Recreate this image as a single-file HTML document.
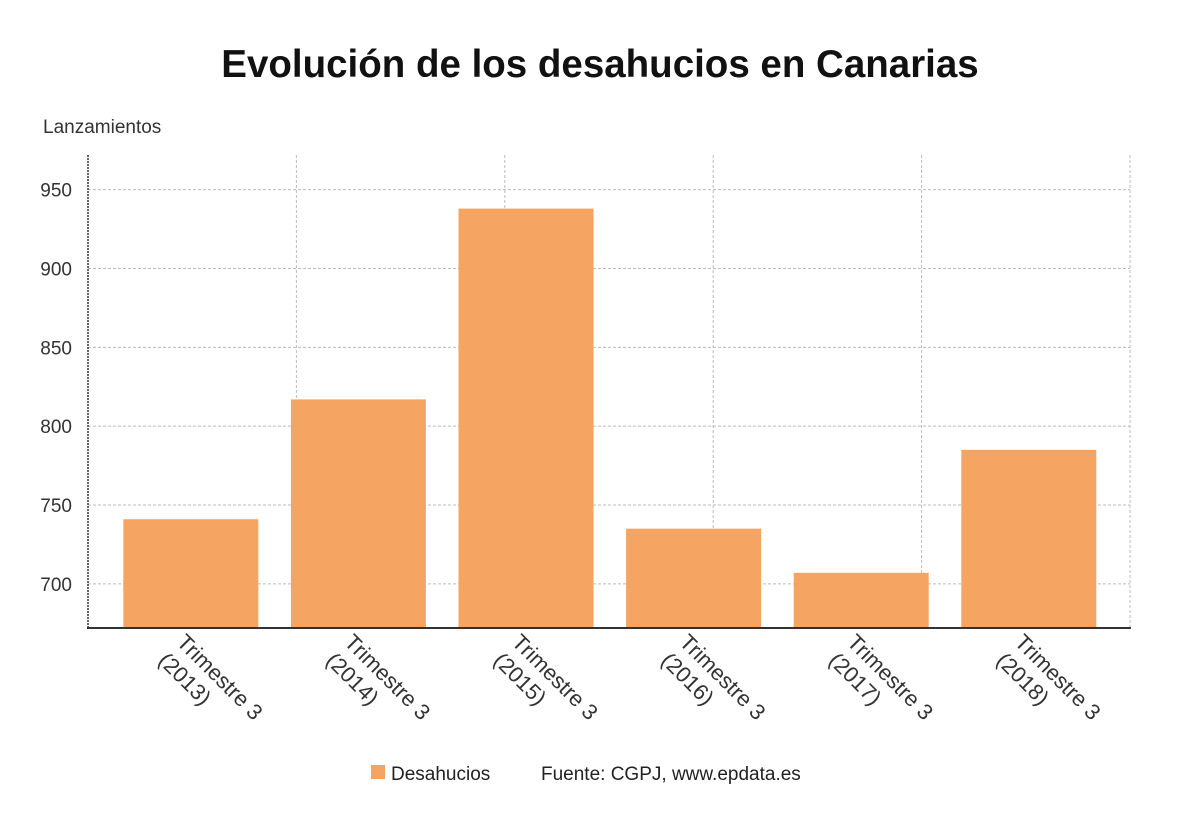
<!DOCTYPE html>
<html><head><meta charset="utf-8"><style>
body{margin:0;background:#fff;width:1200px;height:808px;overflow:hidden;font-family:"Liberation Sans",sans-serif}
</style></head><body>
<svg width="1200" height="808" font-family="Liberation Sans, sans-serif">
<defs><clipPath id="lc"><rect x="0" y="628" width="1200" height="97"/></clipPath></defs>
<text x="600" y="77" text-anchor="middle" font-size="38.5" font-weight="bold" fill="#111">Evolución de los desahucios en Canarias</text>
<text x="43" y="133" font-size="19" fill="#333">Lanzamientos</text>
<g id="grid"></g><g id="bars"></g><g id="xlabels" clip-path="url(#lc)"></g><g id="yticks"></g>
<line x1="88" y1="155" x2="88" y2="628" stroke="#333" stroke-width="1.5" stroke-dasharray="2,1"/>
<line x1="87" y1="628" x2="1131" y2="628" stroke="#333" stroke-width="2"/>
<rect x="371" y="765" width="14" height="14" fill="#f5a561"/>
<text x="391" y="780" font-size="19" fill="#222">Desahucios</text>
<text x="541" y="780" font-size="19" fill="#222">Fuente: CGPJ, www.epdata.es</text>
</svg>
<script>
const categories=["Trimestre 3 (2013)","Trimestre 3 (2014)","Trimestre 3 (2015)","Trimestre 3 (2016)","Trimestre 3 (2017)","Trimestre 3 (2018)"];
const values=[741,817,938,735,707,785];
const yTicks=[700,750,800,850,900,950];
const NS="http://www.w3.org/2000/svg";
const yMin=672,yMax=972,plotTop=155,plotBot=628,x0=107,bw=167.6;
const y=v=>plotBot-(v-yMin)/(yMax-yMin)*(plotBot-plotTop);
const xc=i=>x0+bw*(i+0.5);
function mk(t,a,p){const e=document.createElementNS(NS,t);for(const k in a)e.setAttribute(k,a[k]);p.appendChild(e);return e;}
const g=document.getElementById('grid');
for(let k=1;k<=5;k++){const gx=88+208.4*k;const l=mk('line',{x1:gx,x2:gx,y1:plotTop,y2:plotBot,stroke:'#bbb','stroke-dasharray':'3,2'},g);

}
const yt=document.getElementById('yticks');
yTicks.forEach(v=>{const l=mk('line',{x1:88,x2:1130,y1:y(v),y2:y(v),stroke:'#bbb','stroke-dasharray':'3,2'},g);


const t=mk('text',{x:72,y:y(v)+7,'text-anchor':'end','font-size':19,fill:'#333'},yt);t.textContent=v;

});
const b=document.getElementById('bars'),xl=document.getElementById('xlabels');
values.forEach((v,i)=>{const r=mk('rect',{x:xc(i)-67.5,width:135,y:y(v),height:plotBot-y(v),fill:'#f5a561'},b);


const parts=categories[i].split(' (');
const t=mk('text',{transform:`translate(${xc(i)-4},${plotBot+4}) rotate(45)`,'font-size':22,fill:'#333'},xl);
const a=mk('tspan',{x:0,dy:16},t);a.textContent=parts[0];
const c=mk('tspan',{x:0,dy:26},t);c.textContent='('+parts[1];

});
</script>
</body></html>
